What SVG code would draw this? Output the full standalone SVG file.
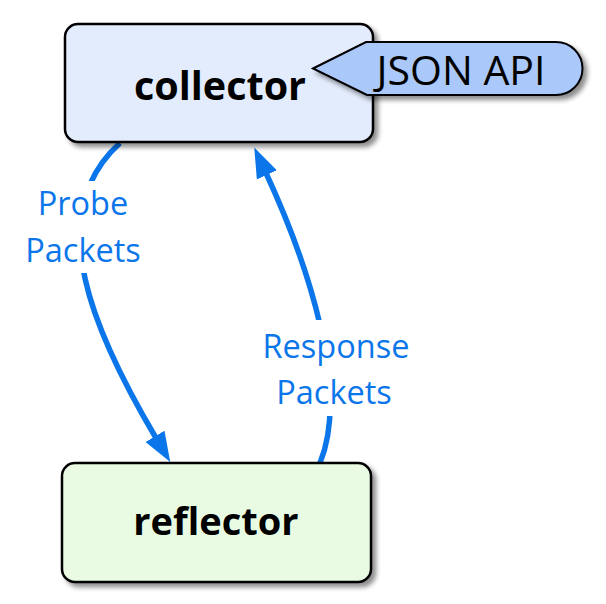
<svg xmlns="http://www.w3.org/2000/svg" width="606" height="604" viewBox="0 0 606 604">
<defs>
<filter id="sh" x="-10%" y="-10%" width="130%" height="140%">
<feGaussianBlur in="SourceAlpha" stdDeviation="2.5"/>
<feOffset dx="4" dy="4" result="b"/>
<feComponentTransfer><feFuncA type="linear" slope="0.45"/></feComponentTransfer>
<feMerge><feMergeNode/><feMergeNode in="SourceGraphic"/></feMerge>
</filter>
<marker id="ah" markerUnits="userSpaceOnUse" markerWidth="32" markerHeight="26" viewBox="0 -13 32 26" refX="2" refY="0" orient="auto">
<path d="M0,-11 L30,0 L0,11 Z" fill="#0b76ea"/>
</marker>
</defs>
<style>
.box{stroke:#000;stroke-width:2.5}
.name{font-family:"Open Sans","Liberation Sans",sans-serif;font-weight:bold;font-size:38px;fill:#000;text-anchor:middle}
.lbl{font-family:"Open Sans","Liberation Sans",sans-serif;font-size:32.5px;fill:#0b76ea;text-anchor:middle}
.edge{fill:none;stroke:#0b76ea;stroke-width:5.5}
</style>
<rect width="606" height="604" fill="#fff"/>
<g id="connectors">
<path class="edge" d="M120,143 C40,215 95,335 156,438" marker-end="url(#ah)"/>
<path class="edge" d="M320,463 C350,390 308,264 266,173" marker-end="url(#ah)"/>
<rect x="16" y="181" width="134" height="92" fill="#fff"/>
<rect x="253" y="320" width="166" height="96" fill="#fff"/>
<text class="lbl" x="83" y="215">Probe</text>
<text class="lbl" x="83" y="262">Packets</text>
<text class="lbl" x="336" y="358">Response</text>
<text class="lbl" x="334" y="404">Packets</text>
</g>
<g id="collector">
<rect class="box" x="65" y="24" width="308" height="118" rx="13" fill="#e3ecfd" filter="url(#sh)"/>
<text class="name" x="220" y="100" style="font-size:39.5px">collector</text>
</g>
<g id="json-api">
<path d="M313,68.5 L366,42 H556 A26.5,26.5 0 0 1 556,95 H367 Z" fill="#aac8f9" stroke="#000" stroke-width="2" filter="url(#sh)"/>
<text x="461" y="85" font-family="'Open Sans','Liberation Sans',sans-serif" font-size="41" fill="#000" text-anchor="middle">JSON API</text>
</g>
<g id="reflector">
<rect class="box" x="62" y="463" width="309" height="119" rx="13" fill="#e9fce3" filter="url(#sh)"/>
<text class="name" x="216" y="535">reflector</text>
</g>
</svg>
